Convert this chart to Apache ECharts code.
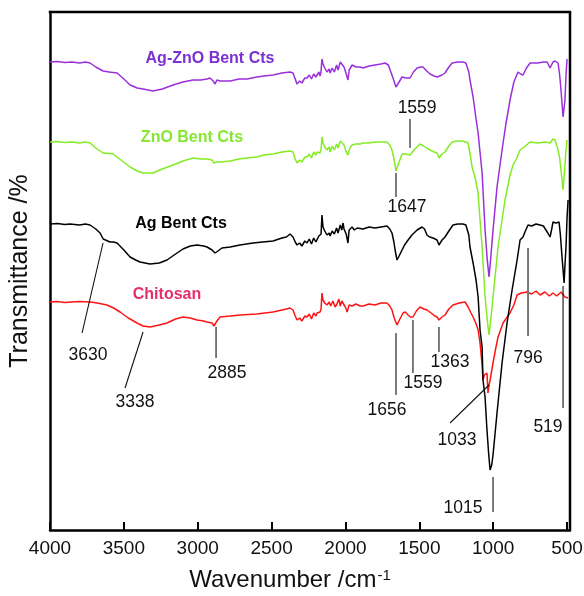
<!DOCTYPE html>
<html><head><meta charset="utf-8">
<script src="https://cdn.jsdelivr.net/npm/echarts@6.0.0/dist/echarts.min.js"></script>
<style>html,body{margin:0;padding:0;background:#fff}#c{width:584px;height:596px}</style>
</head><body><div id="c"></div>
<script>
// x tick labels (wavenumber, cm-1)
const tickLabels = [4000,3500,3000,2500,2000,1500,1000,500];

// spectra: [wavenumber, offset transmittance]
const chitosan = [[4000,228],[3950,228.5],[3900,227.5],[3850,228],[3800,228.5],[3729,228],[3680,227],[3614,225],[3570,222],[3526,218],[3470,212],[3411,207],[3370,204],[3323,203],[3260,205],[3208,207],[3150,211],[3100,213],[3050,212],[3005,210],[2960,209],[2937,208],[2903,207],[2890,204],[2883,205],[2870,209],[2863,208],[2849,213],[2780,214],[2714,215],[2600,216],[2490,218],[2430,220],[2400,221],[2375,222],[2355,220],[2340,214],[2328,210],[2310,212],[2295,209],[2275,214],[2260,213],[2245,216],[2230,211],[2215,217],[2200,214],[2192,217],[2180,219],[2172,218],[2165,221],[2159,237],[2152,230],[2140,227],[2125,225],[2110,228],[2100,224],[2085,229],[2070,223],[2057,226],[2045,231],[2035,224],[2025,229],[2016,230],[2005,224],[1995,221],[1989,218],[1975,225],[1955,224],[1930,226],[1900,224],[1881,224],[1840,226],[1800,225],[1760,227],[1719,227],[1700,224],[1685,220],[1670,212],[1651,205],[1635,210],[1610,217],[1595,218],[1576,215],[1560,213],[1543,213],[1520,219],[1495,223],[1470,221],[1448,220],[1420,217],[1395,214],[1380,213],[1367,210],[1346,213],[1326,215],[1300,221],[1272,225],[1230,227],[1190,228],[1180,226],[1170,223],[1150,217],[1136,213],[1115,206],[1102,200],[1089,187],[1075,165],[1069,150],[1060,155],[1055,154],[1042,157],[1035,137],[1028,145],[1021,150],[1001,167],[985,180],[967,193],[950,200],[933,207],[910,212],[886,217],[860,225],[838,235],[810,237],[771,238],[740,236],[710,239],[683,235],[650,238],[620,234],[595,237],[570,234],[540,238],[515,233],[493,232]];

const agBent = [[4000,306],[3950,306.5],[3900,305.5],[3865,306],[3800,305],[3760,306],[3729,305],[3690,301],[3661,297],[3640,291],[3628,289],[3594,288],[3570,288],[3546,287],[3500,280],[3458,273],[3420,270],[3391,268],[3323,266],[3260,267],[3208,270],[3150,276],[3100,281],[3050,284],[3005,285],[2960,284],[2937,283],[2903,280],[2883,277],[2863,279],[2836,282],[2780,283],[2714,285],[2670,286],[2626,287],[2560,288],[2490,289],[2430,292],[2400,293],[2375,296],[2355,293],[2340,288],[2328,285],[2310,287],[2295,284],[2275,289],[2260,287],[2245,291],[2230,286],[2215,292],[2200,288],[2192,290],[2180,294],[2172,292],[2165,296],[2159,315],[2152,303],[2140,299],[2125,295],[2110,297],[2104,294],[2090,299],[2075,296],[2060,302],[2050,297],[2035,305],[2025,300],[2016,307],[2010,301],[2003,300],[1995,296],[1983,287],[1975,300],[1969,300],[1955,303],[1940,300],[1920,302],[1881,301],[1840,303],[1800,302],[1760,303],[1719,304],[1700,301],[1685,297],[1672,288],[1664,280],[1651,270],[1640,273],[1631,275],[1617,280],[1600,285],[1576,290],[1550,295],[1515,300],[1482,303],[1465,301],[1448,295],[1430,293],[1407,292],[1380,290],[1367,285],[1346,290],[1326,293],[1300,299],[1272,305],[1240,306],[1204,306],[1185,305],[1177,303],[1165,295],[1157,283],[1136,267],[1116,250],[1102,233],[1089,200],[1075,183],[1069,150],[1055,133],[1042,100],[1030,75],[1021,60],[1010,65],[1001,75],[974,117],[940,167],[906,207],[872,240],[838,270],[818,290],[798,293],[785,298],[764,305],[740,304],[710,306],[683,305],[660,304],[649,302],[630,297],[615,293],[605,300],[595,308],[575,307],[554,308],[545,295],[534,273],[520,247],[514,265],[507,283],[500,312],[493,330]];

const znoBent = [[4000,388],[3950,388.5],[3900,387.5],[3850,388],[3800,387],[3760,388],[3729,387],[3690,382],[3641,377],[3600,376.5],[3573,376],[3520,370],[3458,363],[3410,359],[3370,357],[3303,357],[3240,361],[3167,365],[3100,369],[3032,372],[2980,371],[2937,371],[2903,370],[2890,367],[2883,365],[2870,368],[2849,368],[2780,369],[2720,371],[2666,372],[2600,373],[2550,375],[2490,376],[2430,378],[2375,379],[2355,378],[2340,371],[2328,367],[2310,370],[2295,368],[2275,373],[2260,373],[2245,376],[2230,372],[2215,378],[2200,375],[2192,378],[2180,380],[2172,377],[2165,381],[2159,393],[2152,387],[2140,383],[2125,380],[2110,383],[2104,378],[2090,384],[2075,380],[2060,386],[2050,382],[2035,389],[2023,390],[2010,385],[2003,382],[1995,378],[1983,375],[1970,382],[1955,385],[1930,386],[1900,386],[1881,387],[1840,387],[1800,388],[1760,388],[1719,388],[1700,385],[1685,380],[1670,370],[1658,359],[1637,368],[1617,376],[1590,376],[1563,375],[1530,381],[1495,386],[1470,384],[1450,382],[1427,380],[1400,378],[1380,377],[1367,372],[1346,376],[1326,378],[1300,384],[1278,388],[1240,389],[1204,389],[1185,388],[1170,387],[1155,375],[1143,363],[1123,353],[1102,337],[1089,310],[1075,283],[1055,233],[1040,210],[1028,195],[1015,212],[1001,233],[967,283],[940,310],[920,330],[886,355],[865,365],[840,372],[818,380],[790,383],[750,388],[700,387],[650,388],[615,387],[595,391],[581,390],[561,380],[550,372],[541,360],[527,340],[514,365],[507,380],[500,390]];

const agZnoBent = [[4000,468],[3950,468.5],[3900,467.5],[3850,468],[3800,467],[3760,468],[3729,467],[3690,463],[3641,459],[3600,458],[3546,457],[3500,451],[3458,445],[3410,442],[3370,441],[3303,439],[3240,441],[3167,445],[3100,448],[3032,450],[2980,450],[2937,451],[2917,452],[2896,449],[2883,446],[2870,450],[2849,449],[2780,449],[2720,451],[2666,451],[2600,453],[2550,454],[2490,455],[2430,457],[2375,458],[2355,457],[2340,451],[2328,446],[2310,449],[2295,447],[2275,452],[2260,452],[2245,455],[2230,451],[2215,456],[2200,453],[2192,455],[2180,458],[2172,454],[2165,459],[2159,471],[2152,466],[2140,462],[2125,458],[2110,461],[2104,457],[2090,462],[2075,458],[2060,465],[2050,460],[2035,468],[2023,468],[2010,463],[2003,460],[1995,456],[1983,450],[1975,460],[1969,460],[1955,465],[1930,463],[1900,463],[1881,462],[1840,464],[1800,465],[1760,466],[1732,467],[1710,465],[1698,463],[1678,452],[1658,443],[1637,448],[1617,453],[1590,452],[1563,452],[1540,458],[1515,462],[1490,463],[1475,463],[1450,459],[1427,456],[1400,454],[1380,453],[1367,451],[1346,455],[1326,457],[1300,463],[1278,467],[1240,468],[1204,468],[1185,467],[1177,465],[1165,458],[1157,450],[1136,433],[1115,410],[1102,397],[1075,357],[1055,300],[1040,270],[1028,253],[1015,275],[1001,300],[974,343],[940,380],[915,405],[886,430],[860,448],[832,458],[815,456],[798,455],[775,462],[750,467],[700,467],[660,468],[635,468],[615,462],[595,468],[581,469],[561,467],[550,455],[541,440],[527,413],[514,430],[507,455],[500,471]];

const seriesNames = ['Chitosan','Ag Bent Cts','ZnO Bent Cts','Ag-ZnO Bent Cts'];
const seriesLabelPos = [[3208,235],[3113,306],[3039,392],[2917,471]];

const peakLabels = ['3630','3338','2885','1647','1559','1656','1559','1363','796','519','1033','1015'];
const peakLines = [[3641,287,3783,197],[3370,198,3492,142],[2876,203,2876,172],[1658,357,1658,333],[1563,411,1563,382],[1658,197,1658,135],[1543,210,1543,157],[1367,203,1367,178],[764,282,764,194],[527,244,527,122],[1028,145,1292,107],[1001,53,1001,18]];
const peakTextPos = [[3743,175],[3425,128],[2802,157],[1583,323],[1515,422],[1719,120],[1475,147],[1292,168],[764,172],[629,103],[1245,90],[1204,22]];

const X_MIN = 480, X_MAX = 4000, Y_MIN = 0, Y_MAX = 518;
const FONT = '"Liberation Sans", Arial, Helvetica, sans-serif';
const lineColors = ['#ff1414','#000000','#84ec24','#9b2fdc'];
const labelColors = ['#e4306a','#000000','#86e632','#7a30d4'];
const datasets = [chitosan, agBent, znoBent, agZnoBent];

const chart = echarts.init(document.getElementById('c'), null, {renderer:'canvas'});
chart.setOption({
  animation:false,
  grid:{left:50,right:14,top:12,bottom:66,containLabel:false,outerBoundsMode:'none',show:false},
  xAxis:{type:'value',inverse:true,min:X_MIN,max:X_MAX,
    axisLine:{show:true,onZero:false,lineStyle:{color:'#000',width:2.5}},
    axisTick:{show:true,inside:true,length:8,lineStyle:{color:'#000',width:2},customValues:tickLabels},
    axisLabel:{customValues:tickLabels,fontSize:19,color:'#111',fontFamily:FONT,margin:9,hideOverlap:false,showMinLabel:true,showMaxLabel:true,formatter:v=>String(v)},
    splitLine:{show:false},
    name:'{b|Wavenumber /cm}{s|-1}',nameLocation:'middle',nameGap:38,
    nameTextStyle:{color:'#111',fontFamily:FONT,padding:[0,40,0,0],
      rich:{b:{fontSize:24,fontFamily:FONT,color:'#111'},s:{fontSize:15,fontFamily:FONT,color:'#111',verticalAlign:'top',padding:[0,0,0,1]}}}
  },
  yAxis:{type:'value',min:Y_MIN,max:Y_MAX,
    axisLine:{show:true,onZero:false,lineStyle:{color:'#000',width:2.5}},
    axisTick:{show:false},axisLabel:{show:false},splitLine:{show:false},
    name:'Transmittance /%',nameLocation:'middle',nameGap:17,nameRotate:90,
    nameTextStyle:{fontSize:25,color:'#111',fontFamily:FONT}
  },
  series: datasets.map((d,i)=>({
    name:seriesNames[i],type:'line',data:d,showSymbol:false,symbol:'none',
    lineStyle:{color:lineColors[i],width:1.5},z:2+i,silent:true
  }))
});

function px(p){return chart.convertToPixel({gridIndex:0}, p);}
const g = [];
// top and right frame edges, from axis extents
const tl = px([X_MAX, Y_MAX]), tr = px([X_MIN, Y_MAX]), br = px([X_MIN, Y_MIN]);
g.push({type:'line',z:95,shape:{x1:tl[0]-1.25,y1:tl[1],x2:tr[0]+1.25,y2:tr[1]},style:{stroke:'#000',lineWidth:2.5}});
g.push({type:'line',z:95,shape:{x1:tr[0],y1:tr[1],x2:br[0],y2:br[1]},style:{stroke:'#000',lineWidth:2.5}});
seriesNames.forEach((n,i)=>{
  const p = px(seriesLabelPos[i]);
  g.push({type:'text',x:p[0],y:p[1],z:100,style:{text:n,fill:labelColors[i],font:'bold 16px '+FONT,textAlign:'center',textVerticalAlign:'middle'}});
});
peakLines.forEach((l,i)=>{
  const a = px([l[0],l[1]]), b = px([l[2],l[3]]);
  const gray = peakLabels[i]==='796';
  g.push({type:'line',z:90,shape:{x1:a[0],y1:a[1],x2:b[0],y2:b[1]},style:{stroke:gray?'#777':'#111',lineWidth:gray?2:1.1}});
});
peakTextPos.forEach((p0,i)=>{
  const p = px(p0);
  g.push({type:'text',x:p[0],y:p[1],z:100,style:{text:peakLabels[i],fill:'#111',font:'17.5px '+FONT,textAlign:'center',textVerticalAlign:'middle'}});
});
chart.setOption({graphic:g});
</script></body></html>
